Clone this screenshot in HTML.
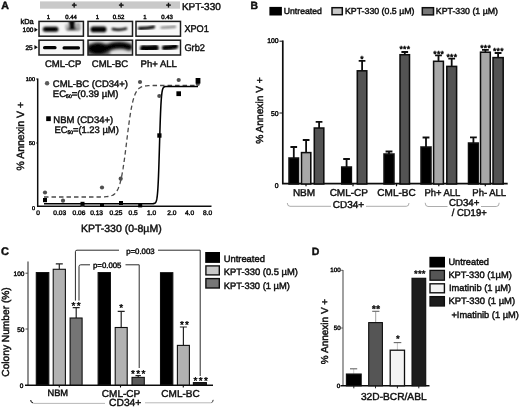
<!DOCTYPE html>
<html>
<head>
<meta charset="utf-8">
<title>Figure</title>
<style>
html,body{margin:0;padding:0;background:#fff;}
body{width:520px;height:408px;overflow:hidden;font-family:"Liberation Sans",sans-serif;}
svg{display:block;position:absolute;left:0;top:0;}
svg text{text-rendering:geometricPrecision;font-family:"Liberation Sans",sans-serif;fill:#111;stroke:#111;stroke-width:0.45px;}
.b{font-weight:bold;}
</style>
</head>
<body>
<svg width="520" height="408" viewBox="0 0 520 408">
<defs>
<filter id="bl1" x="-20%" y="-50%" width="140%" height="200%"><feGaussianBlur stdDeviation="0.9"/></filter>
<filter id="bl2" x="-20%" y="-50%" width="140%" height="200%"><feGaussianBlur stdDeviation="1.4"/></filter>
<filter id="bl0" x="-20%" y="-50%" width="140%" height="200%"><feGaussianBlur stdDeviation="0.65"/></filter>
<filter id="soft"><feGaussianBlur stdDeviation="0.35"/></filter>
<clipPath id="c1"><rect x="39" y="21" width="45" height="15"/></clipPath>
<clipPath id="c2"><rect x="39" y="40" width="45" height="15"/></clipPath>
<clipPath id="c3"><rect x="88" y="21" width="44.5" height="15"/></clipPath>
<clipPath id="c4"><rect x="88" y="40" width="44.5" height="15"/></clipPath>
<clipPath id="c5"><rect x="136.5" y="21" width="43.5" height="15"/></clipPath>
<clipPath id="c6"><rect x="136.5" y="40" width="43.5" height="15"/></clipPath>
</defs>
<rect x="0" y="0" width="520" height="408" fill="#ffffff"/>
<g filter="url(#soft)">

<!-- ================= PANEL A ================= -->
<g id="panelA">
<text x="1.2" y="8.9" font-size="10.6" class="b">A</text>
<rect x="40" y="1.4" width="140" height="7.3" fill="#c9c9c9"/>
<g font-size="8.5" text-anchor="middle" class="b">
<text x="74.2" y="7.9">+</text><text x="121.2" y="7.9">+</text><text x="168.6" y="7.9">+</text>
</g>
<text x="181.9" y="9.9" font-size="10">KPT-330</text>
<g font-size="6" text-anchor="middle">
<text x="48.5" y="19">1</text><text x="71" y="19">0.44</text>
<text x="97.5" y="19">1</text><text x="118.5" y="19">0.52</text>
<text x="145" y="19">1</text><text x="167" y="19">0.43</text>
</g>
<text x="20.5" y="24.3" font-size="7.4">kDa</text>
<text x="22.6" y="32" font-size="6.5">100</text>
<text x="25.5" y="49.5" font-size="6.5">25</text>
<path d="M34.4 27.5 L37.8 29.8 L34.4 32.1Z M34.4 45 L37.8 47.3 L34.4 49.6Z" fill="#111"/>

<!-- blot boxes -->
<g>
<rect x="39" y="21.4" width="44.4" height="14.8" fill="#f6f6f6"/>
<rect x="39" y="40.2" width="44.4" height="14.8" fill="#f6f6f6"/>
<rect x="88" y="21.4" width="44.5" height="14.8" fill="#f4f4f4"/>
<rect x="88" y="40.2" width="44.5" height="14.8" fill="#e2e2e2"/>
<rect x="136" y="21.4" width="44.5" height="14.8" fill="#f8f8f8"/>
<rect x="136" y="40.2" width="44.5" height="14.8" fill="#f8f8f8"/>
</g>
<g clip-path="url(#c1)"><g filter="url(#bl1)">
<rect x="42.8" y="26.8" width="15.6" height="5" rx="2.5" fill="#000"/>
<rect x="65.8" y="26.6" width="14.6" height="3.8" rx="1.9" fill="#4a4a4a"/>
<rect x="68.8" y="19.5" width="6.2" height="10" rx="2" fill="#0a0a0a"/>
<rect x="75.5" y="22.5" width="5" height="7" rx="2" fill="#aaa"/>
<rect x="65" y="24" width="4" height="5" rx="2" fill="#bbb"/>
</g></g>
<g clip-path="url(#c2)"><g filter="url(#bl0)">
<rect x="43" y="46" width="13.6" height="3.3" rx="1.6" fill="#000"/>
<rect x="62.5" y="46.3" width="17.5" height="3.1" rx="1.5" fill="#000"/>
</g></g>
<g clip-path="url(#c3)"><g filter="url(#bl1)">
<rect x="90.5" y="26.6" width="16" height="5.6" rx="2.8" fill="#000"/>
<path d="M112.8 29 Q119 30.6 126 28.6" stroke="#000" stroke-width="2.5" stroke-linecap="round" fill="none"/>
</g></g>
<g clip-path="url(#c4)"><g filter="url(#bl2)">
<ellipse cx="98" cy="48.5" rx="10.5" ry="6" fill="#000"/>
<rect x="86" y="44" width="24" height="12" fill="#000" opacity="0.5"/>
<path d="M108 47.5 Q119 43.5 129 47" stroke="#000" stroke-width="7" stroke-linecap="round" fill="none"/>
</g></g>
<g clip-path="url(#c5)"><g filter="url(#bl1)">
<path d="M139.5 28.4 Q147 28.6 153.5 27" stroke="#000" stroke-width="3.2" stroke-linecap="round" fill="none"/>
<path d="M161.5 27.6 Q168 27.4 175 26.8" stroke="#858585" stroke-width="2.4" stroke-linecap="round" fill="none"/>
</g></g>
<g clip-path="url(#c6)"><g filter="url(#bl1)">
<path d="M143.3 48.3 Q149 49 155.5 47.8" stroke="#000" stroke-width="6.6" stroke-linecap="round" fill="none"/>
<path d="M164.5 47.8 Q170 47.6 175.5 46.4" stroke="#000" stroke-width="5.2" stroke-linecap="round" fill="none"/>
</g></g>
<g fill="none" stroke="#1a1a1a" stroke-width="1.5">
<rect x="39" y="21.4" width="44.4" height="14.8"/>
<rect x="39" y="40.2" width="44.4" height="14.8"/>
<rect x="88" y="21.4" width="44.5" height="14.8"/>
<rect x="88" y="40.2" width="44.5" height="14.8"/>
<rect x="136" y="21.4" width="44.5" height="14.8"/>
<rect x="136" y="40.2" width="44.5" height="14.8"/>
</g>
<text x="184.4" y="31.9" font-size="9.8" textLength="24.4" lengthAdjust="spacingAndGlyphs">XPO1</text>
<text x="184.4" y="50.8" font-size="9.8" textLength="20.6" lengthAdjust="spacingAndGlyphs">Grb2</text>
<g font-size="9.5" text-anchor="middle">
<text x="63.1" y="67.3">CML-CP</text><text x="110" y="67.3">CML-BC</text><text x="158.7" y="67.1">Ph+ ALL</text>
</g>

<!-- chart A -->
<path d="M37.7 78.5 V206.2 H211.5" fill="none" stroke="#111" stroke-width="1.5"/>
<path d="M36 79 H37.7 M36 143 H37.7" stroke="#111" stroke-width="0.8"/>
<g font-size="5.5" text-anchor="end">
<text x="35" y="80.5">100</text><text x="35" y="145">50</text><text x="35" y="210">0</text>
</g>
<g font-size="6.6" text-anchor="middle">
<text x="38" y="215.2">0</text><text x="59.7" y="215.2">0.03</text><text x="78.9" y="215.2">0.06</text><text x="96.6" y="215.2">0.13</text><text x="116" y="215.2">0.25</text><text x="133.2" y="215.2">0.5</text><text x="151.7" y="215.2">1.0</text><text x="171.9" y="215.2">2.0</text><text x="189.5" y="215.2">4.0</text><text x="207.6" y="215.2">8.0</text>
</g>
<text transform="translate(23.5,136.2) rotate(-90)" font-size="10.5" text-anchor="middle">% Annexin V +</text>
<text x="121.3" y="232.3" font-size="10.5" text-anchor="middle">KPT-330 (0-8µM)</text>

<!-- dashed curve -->
<path d="M44.0 197.0 L45.0 197.0 L46.0 197.0 L47.0 197.0 L48.0 197.0 L49.0 197.0 L50.0 197.0 L51.0 197.0 L52.0 197.0 L53.0 197.0 L54.0 197.0 L55.0 197.0 L56.0 197.0 L57.0 197.0 L58.0 197.0 L59.0 197.0 L60.0 197.0 L61.0 197.0 L62.0 197.0 L63.0 197.0 L64.0 197.0 L65.0 197.0 L66.0 197.0 L67.0 197.0 L68.0 197.0 L69.0 197.0 L70.0 197.0 L71.0 197.0 L72.0 197.0 L73.0 197.0 L74.0 197.0 L75.0 197.0 L76.0 197.0 L77.0 197.0 L78.0 197.0 L79.0 197.0 L80.0 197.0 L81.0 197.0 L82.0 197.0 L83.0 197.0 L84.0 197.0 L85.0 197.0 L86.0 197.0 L87.0 197.0 L88.0 197.0 L89.0 197.0 L90.0 197.0 L91.0 197.0 L92.0 197.0 L93.0 197.0 L94.0 197.0 L95.0 197.0 L96.0 197.0 L97.0 197.0 L98.0 197.0 L99.0 197.0 L100.0 197.0 L101.0 196.9 L102.0 196.9 L103.0 196.9 L104.0 196.9 L105.0 196.8 L106.0 196.7 L107.0 196.7 L108.0 196.5 L109.0 196.4 L110.0 196.2 L111.0 195.9 L112.0 195.5 L113.0 195.1 L114.0 194.4 L115.0 193.5 L116.0 192.4 L117.0 190.9 L118.0 189.0 L119.0 186.5 L120.0 183.4 L121.0 179.4 L122.0 174.6 L123.0 168.9 L124.0 162.3 L125.0 154.9 L126.0 147.0 L127.0 138.8 L128.0 130.7 L129.0 123.1 L130.0 116.1 L131.0 110.0 L132.0 104.9 L133.0 100.6 L134.0 97.2 L135.0 94.4 L136.0 92.3 L137.0 90.6 L138.0 89.4 L139.0 88.4 L140.0 87.7 L141.0 87.1 L142.0 86.7 L143.0 86.4 L144.0 86.2 L145.0 86.0 L146.0 85.9 L147.0 85.8 L148.0 85.7 L149.0 85.7 L150.0 85.6 L151.0 85.6 L152.0 85.6 L153.0 85.5 L154.0 85.5 L155.0 85.5 L156.0 85.5 L157.0 85.5 L158.0 85.5 L159.0 85.5 L160.0 85.5 L161.0 85.5 L162.0 85.5 L163.0 85.5 L164.0 85.5 L165.0 85.5 L166.0 85.5 L167.0 85.5 L168.0 85.5 L169.0 85.5 L170.0 85.5 L171.0 85.5 L172.0 85.5 L173.0 85.5 L174.0 85.5 L175.0 85.5 L176.0 85.5 L177.0 85.5 L178.0 85.5 L179.0 85.5 L180.0 85.5 L181.0 85.5 L182.0 85.5 L183.0 85.5 L184.0 85.5 L185.0 85.5 L186.0 85.5 L187.0 85.5 L188.0 85.5 L189.0 85.5 L190.0 85.5 L191.0 85.5 L192.0 85.5 L193.0 85.5 L194.0 85.5 L195.0 85.5 L196.0 85.5 L197.0 85.5 L198.0 85.5" fill="none" stroke="#4a4a4a" stroke-width="1.3" stroke-dasharray="4.5 3" stroke-linejoin="round"/>
<!-- solid curve -->
<path d="M44.00 203.7 L151.70 203.7 L151.90 203.7 L152.10 203.7 L152.30 203.7 L152.50 203.7 L152.70 203.7 L152.90 203.7 L153.10 203.6 L153.30 203.6 L153.50 203.6 L153.70 203.6 L153.90 203.5 L154.10 203.5 L154.30 203.4 L154.50 203.4 L154.70 203.3 L154.90 203.2 L155.10 203.0 L155.30 202.9 L155.50 202.6 L155.70 202.4 L155.90 202.0 L156.10 201.6 L156.30 201.0 L156.50 200.4 L156.70 199.5 L156.90 198.4 L157.10 197.1 L157.30 195.5 L157.50 193.5 L157.70 191.1 L157.90 188.2 L158.10 184.8 L158.30 180.7 L158.50 176.1 L158.70 170.8 L158.90 164.9 L159.10 158.6 L159.30 151.9 L159.50 145.1 L159.70 138.2 L159.90 131.5 L160.10 125.2 L160.30 119.3 L160.50 114.0 L160.70 109.4 L160.90 105.3 L161.10 101.9 L161.30 99.0 L161.50 96.6 L161.70 94.6 L161.90 93.0 L162.10 91.7 L162.30 90.6 L162.50 89.7 L162.70 89.1 L162.90 88.5 L163.10 88.1 L163.30 87.7 L163.50 87.5 L163.70 87.2 L163.90 87.1 L164.10 86.9 L164.30 86.8 L164.50 86.7 L164.70 86.7 L164.90 86.6 L165.10 86.6 L165.30 86.5 L165.50 86.5 L165.70 86.5 L165.90 86.5 L166.10 86.4 L166.30 86.4 L166.50 86.4 L166.70 86.4 L166.90 86.4 L167.10 86.4 L167.30 86.4 L167.50 86.4 L198.00 86.4" fill="none" stroke="#000" stroke-width="1.55" stroke-linejoin="round"/>
<g fill="#505050">
<circle cx="45" cy="192.5" r="2.1"/><circle cx="63" cy="200.7" r="2.1"/><circle cx="82.5" cy="205" r="2.1"/><circle cx="102" cy="187.5" r="2.1"/><circle cx="120.7" cy="178.7" r="2.1"/>
<circle cx="140" cy="82" r="2.1"/><circle cx="159.3" cy="96" r="2.1"/><circle cx="178.7" cy="80" r="2.1"/><circle cx="197.8" cy="84" r="2.1"/>
</g>
<g fill="#000">
<rect x="43" y="198" width="4" height="4.2"/><rect x="80.5" y="201.8" width="4" height="4"/><rect x="100" y="203" width="4" height="4"/><rect x="119" y="201" width="4" height="4"/><rect x="138.2" y="203.4" width="4" height="4"/>
<rect x="157.3" y="133.3" width="4.2" height="4.4"/><rect x="176.4" y="91.3" width="4.6" height="4.8"/><rect x="195.6" y="78" width="4.8" height="5.6"/>
</g>
<!-- legend A -->
<circle cx="47.1" cy="83.3" r="2.2" fill="#5c5c5c"/>
<text x="52.8" y="87.3" font-size="9.5">CML-BC (CD34+)</text>
<text x="52.8" y="96.9" font-size="9.5" textLength="65.7" lengthAdjust="spacingAndGlyphs">EC<tspan font-size="5" dy="1.3">50</tspan><tspan dy="-1.3">=(0.39 µM)</tspan></text>
<rect x="46.2" y="116.3" width="4.6" height="4.8" fill="#000"/>
<text x="53.3" y="122.7" font-size="9.5">NBM (CD34+)</text>
<text x="54.4" y="133" font-size="9.5" textLength="64.4" lengthAdjust="spacingAndGlyphs">EC<tspan font-size="5" dy="1">50</tspan><tspan dy="-1">=(1.23 µM)</tspan></text>
</g>

<!-- ================= PANEL B ================= -->
<g id="panelB">
<text x="250.6" y="9.1" font-size="10.4" class="b">B</text>
<rect x="269.4" y="6.9" width="12.5" height="8.6" fill="#000"/>
<rect x="332" y="7.7" width="10.3" height="7" fill="#c8c8c8" stroke="#111" stroke-width="1.5"/>
<rect x="422.3" y="7.7" width="11.2" height="7.2" fill="#777" stroke="#111" stroke-width="1.5"/>
<g font-size="8.6">
<text x="283.8" y="13.9" textLength="38" lengthAdjust="spacingAndGlyphs">Untreated</text>
<text x="345" y="13.7" textLength="69.5" lengthAdjust="spacingAndGlyphs">KPT-330 (0.5 µM)</text>
<text x="435.8" y="13.5" textLength="62.2" lengthAdjust="spacingAndGlyphs">KPT-330 (1 µM)</text>
</g>
<path d="M282.8 40.6 V183.6 H507.7" fill="none" stroke="#111" stroke-width="1.7"/>
<path d="M306 184 V186.3 M353 184 V186.3 M396.5 184 V186.3 M438.8 184 V186.3 M485.3 184 V186.3" stroke="#111" stroke-width="1.2"/>
<path d="M279.5 41.2 H283 M279.5 113 H283" stroke="#111" stroke-width="1"/>
<g font-size="6.8" text-anchor="end">
<text x="278.6" y="43.2">100</text><text x="278.6" y="115.6">50</text><text x="278.6" y="188.2">0</text>
</g>
<text transform="translate(263,110.5) rotate(-90)" font-size="10.2" text-anchor="middle">% Annexin V +</text>
<!-- error bars -->
<g stroke="#111" stroke-width="1.8" fill="none">
<path d="M293.8 158.0 V147.0 M290.4 147.0 H297.1"/>
<path d="M306.1 152.6 V140.0 M302.8 140.0 H309.5"/>
<path d="M319.1 128.0 V121.8 M315.7 121.8 H322.4"/>
<path d="M346.6 167.0 V159.0 M343.2 159.0 H349.9"/>
<path d="M362.1 70.8 V60.8 M358.7 60.8 H365.4"/>
<path d="M389.0 154.0 V151.5 M385.6 151.5 H392.4"/>
<path d="M404.8 54.7 V52.0 M401.4 52.0 H408.1"/>
<path d="M426.0 147.0 V137.5 M422.6 137.5 H429.4"/>
<path d="M438.5 61.3 V55.3 M435.1 55.3 H441.9"/>
<path d="M451.7 66.4 V58.6 M448.3 58.6 H455.1"/>
<path d="M473.4 143.0 V137.3 M470.0 137.3 H476.8"/>
<path d="M485.4 52.2 V49.8 M482.0 49.8 H488.8"/>
<path d="M498.1 57.6 V53.0 M494.7 53.0 H501.5"/>
</g>
<!-- bars -->
<g stroke="#0a0a0a" stroke-width="1.5">
<rect x="289.0" y="158.0" width="9.5" height="26.0" fill="#000"/>
<rect x="301.5" y="152.6" width="9.3" height="31.4" fill="#a8a8a8"/>
<rect x="314.3" y="128.0" width="9.5" height="56.0" fill="#525252"/>
<rect x="341.7" y="167.0" width="9.7" height="17.0" fill="#000"/>
<rect x="357.3" y="70.8" width="9.5" height="113.2" fill="#525252"/>
<rect x="384.0" y="154.0" width="10.0" height="30.0" fill="#000"/>
<rect x="400.0" y="54.7" width="9.5" height="129.3" fill="#525252"/>
<rect x="421.0" y="147.0" width="10.0" height="37.0" fill="#000"/>
<rect x="433.6" y="61.3" width="9.8" height="122.7" fill="#a8a8a8"/>
<rect x="446.8" y="66.4" width="9.8" height="117.6" fill="#525252"/>
<rect x="468.5" y="143.0" width="9.7" height="41.0" fill="#000"/>
<rect x="480.5" y="52.2" width="9.8" height="131.8" fill="#a8a8a8"/>
<rect x="493.0" y="57.6" width="10.2" height="126.4" fill="#525252"/>
</g>
<g font-size="8.6" text-anchor="middle" letter-spacing="0.25">
<text x="362" y="61.5">*</text>
<text x="404.9" y="52">***</text>
<text x="438.7" y="56.6">***</text>
<text x="451.9" y="59.6">***</text>
<text x="485.6" y="51">***</text>
<text x="498.4" y="53.6">***</text>
</g>
<g font-size="10" text-anchor="middle">
<text x="304" y="196.1">NBM</text><text x="348.8" y="196.1">CML-CP</text><text x="396.5" y="196.1">CML-BC</text><text x="442.3" y="196.1" font-size="10" textLength="35.8" lengthAdjust="spacingAndGlyphs">Ph+ ALL</text><text x="489.2" y="196.1" font-size="10" textLength="33.8" lengthAdjust="spacingAndGlyphs">Ph- ALL</text>
<text x="348.5" y="208.3">CD34+</text>
<text x="464.2" y="205.7" font-size="10" textLength="30.4" lengthAdjust="spacingAndGlyphs">CD34+</text>
<text x="469.2" y="215.8" font-size="10" textLength="35" lengthAdjust="spacingAndGlyphs">/ CD19+</text>
</g>
<g fill="none" stroke="#8a8a8a" stroke-width="0.7">
<path d="M287.3 203 Q287.3 206.3 290 206.3 H331 M366 206.3 H406.3 Q409 206.3 409 203"/>
<path d="M425.2 202.8 Q425.2 206.5 428 206.5 H447.5 M481 206.5 H496.3 Q499.2 206.5 499.2 202.8"/>
</g>
</g>

<!-- ================= PANEL C ================= -->
<g id="panelC">
<text x="0.9" y="255" font-size="11" class="b">C</text>
<path d="M28 261.4 V385.2" fill="none" stroke="#444" stroke-width="1.2"/>
<path d="M25 385.2 H213" fill="none" stroke="#111" stroke-width="1.4"/>
<path d="M25.5 273.2 H27.8 M25.5 329 H27.8" stroke="#333" stroke-width="0.9"/>
<path d="M59.3 385 V387.6 M120.5 385 V387.6 M183.3 385 V387.6" stroke="#111" stroke-width="1.1"/>
<g font-size="6.5" text-anchor="end">
<text x="24.4" y="275.8">100</text><text x="24.4" y="331.6">50</text><text x="23.3" y="387.7">0</text>
</g>
<text transform="translate(9.3,332) rotate(-90)" font-size="10.2" text-anchor="middle">Colony Number (%)</text>
<g stroke="#222" stroke-width="1.2" fill="none">
<path d="M59.3 269 V263.8 M55.8 263.8 H62.8"/>
<path d="M76.2 318 V307.7 M72.7 307.7 H79.7"/>
<path d="M121.2 327.6 V311.3 M117.7 311.3 H124.7"/>
<path d="M138.2 377.3 V375.6 M135.5 375.6 H140.9"/>
<path d="M183.4 345.4 V327 M179.9 327 H186.9"/>
</g>
<g stroke="#111" stroke-width="1.1">
<rect x="36.3" y="272.6" width="12.5" height="112.4" fill="#000"/>
<rect x="53.2" y="269.3" width="12.2" height="115.7" fill="#b2b2b2"/>
<rect x="70.1" y="318" width="12" height="67" fill="#747474"/>
<rect x="98.1" y="272.6" width="12.3" height="112.4" fill="#000"/>
<rect x="115.2" y="327.5" width="12" height="57.5" fill="#b2b2b2"/>
<rect x="132" y="377.4" width="12.3" height="7.6" fill="#5a5a5a"/>
<rect x="160.5" y="272.7" width="12.3" height="112.3" fill="#000"/>
<rect x="177.4" y="345.4" width="12" height="39.6" fill="#b2b2b2"/>
<rect x="193.4" y="382.6" width="13" height="2.4" fill="#222"/>
</g>
<g font-size="10" text-anchor="middle" letter-spacing="1.3">
<text x="76.8" y="309">**</text>
<text x="121.8" y="311.2">*</text>
<text x="138.9" y="377.3">***</text>
<text x="185.1" y="328.2">**</text>
<text x="201.3" y="384.4">***</text>
</g>
<g fill="none" stroke="#2a2a2a" stroke-width="1">
<path d="M75.4 300.6 V251.7 Q75.4 250.2 77 250.2 H119 M158 250.2 H200.2 V376"/>
<path d="M79 300.6 V266.5 Q79 264.8 80.8 264.8 H90 M125.5 264.8 H139.2 V368"/>
</g>
<g font-size="7.8">
<text x="126.2" y="253.6">p=0.003</text>
<text x="93" y="268">p=0.005</text>
</g>
<g font-size="10" text-anchor="middle">
<text x="57.8" y="396.3" font-size="9.3">NBM</text><text x="121" y="396.8">CML-CP</text><text x="180.5" y="396.8">CML-BC</text>
<text x="125.2" y="406.3" font-size="10.3">CD34+</text>
</g>
<g fill="none" stroke="#999" stroke-width="0.7">
<path d="M105 403.4 H34 Q31.3 403.4 31.3 400.3" />
<path d="M145 402.8 H210.5 Q213 402.8 213 400"/>
</g>
<path d="M30.6 400 Q30.6 402.6 33 402.8" stroke="#222" stroke-width="1" fill="none"/>
<path d="M211.5 402.6 Q213.2 402 213.2 399.8" stroke="#444" stroke-width="0.9" fill="none"/>
<rect x="205.2" y="252" width="14.8" height="10.9" fill="#000"/>
<rect x="205.9" y="265.9" width="13.4" height="9" fill="#c8c8c8" stroke="#111" stroke-width="1.4"/>
<rect x="205.9" y="278.6" width="13.4" height="9.4" fill="#777" stroke="#111" stroke-width="1.4"/>
<g font-size="9.3">
<text x="223.7" y="262.1" textLength="41.2" lengthAdjust="spacingAndGlyphs">Untreated</text>
<text x="223.7" y="275.4" textLength="74.2" lengthAdjust="spacingAndGlyphs">KPT-330 (0.5 µM)</text>
<text x="223.7" y="288.7" textLength="66.2" lengthAdjust="spacingAndGlyphs">KPT-330 (1 µM)</text>
</g>
</g>
<!-- ================= PANEL D ================= -->
<g id="panelD">
<text x="311.8" y="254.8" font-size="10.5" class="b">D</text>
<path d="M343 270 V385.8" fill="none" stroke="#555" stroke-width="1.1"/>
<path d="M340.5 385.8 H429.5" fill="none" stroke="#111" stroke-width="1.4"/>
<path d="M340.8 270.3 H343 M340.8 328 H343" stroke="#444" stroke-width="0.8"/>
<path d="M353.8 386 V388.3 M375.5 386 V388.3 M397.4 386 V388.3 M418.8 386 V388.3" stroke="#222" stroke-width="1"/>
<g font-size="6.2" text-anchor="end">
<text x="340.6" y="272.3">100</text><text x="340.6" y="330.2">50</text><text x="340.3" y="388.2">0</text>
</g>
<text transform="translate(327.8,331.5) rotate(-90)" font-size="10" text-anchor="middle">% Annexin V +</text>
<g stroke="#bbb" stroke-width="0.8" fill="none">
<path d="M353.7 373.6 V369"/>
<path d="M375.7 322 V311.6" stroke="#888"/>
<path d="M397.4 350 V342.6"/>
</g>
<g stroke="#666" stroke-width="1.1" fill="none">
<path d="M350 368.8 H357.2"/>
<path d="M372.2 311.3 H379.4"/>
<path d="M393.7 342.6 H401.3"/>
</g>
<g stroke="#111" stroke-width="1.1">
<rect x="346.4" y="374" width="14.8" height="11.8" fill="#000"/>
<rect x="368.7" y="322.6" width="13.7" height="63.2" fill="#555"/>
<rect x="390.2" y="350.2" width="14.3" height="35.6" fill="#f3f3f3" stroke-width="1.3"/>
<rect x="412" y="278.3" width="13.7" height="107.5" fill="#1c1c1c"/>
</g>
<g font-size="9.5" text-anchor="middle" letter-spacing="0.5">
<text x="376.3" y="311.8" font-weight="bold">**</text>
<text x="398.2" y="341.6">*</text>
<text x="419.9" y="277.4" letter-spacing="0.2">***</text>
</g>
<text x="393.8" y="399.6" font-size="10.2" text-anchor="middle">32D-BCR/ABL</text>
<rect x="429.4" y="256.8" width="15.6" height="10.7" fill="#000"/>
<rect x="430" y="270.4" width="14.4" height="9.8" fill="#555" stroke="#111" stroke-width="1.3"/>
<rect x="430" y="283.8" width="14.4" height="9" fill="#f3f3f3" stroke="#111" stroke-width="1.4"/>
<rect x="430" y="296.6" width="14.4" height="9.4" fill="#1c1c1c" stroke="#111" stroke-width="1.3"/>
<g font-size="9.3">
<text x="448.4" y="265.1" textLength="40.6" lengthAdjust="spacingAndGlyphs">Untreated</text>
<text x="448.4" y="277.9" textLength="63.4" lengthAdjust="spacingAndGlyphs">KPT-330 (1µM)</text>
<text x="449" y="291" textLength="62.2" lengthAdjust="spacingAndGlyphs">Imatinib (1 µM)</text>
<text x="448.4" y="303.9" textLength="66.7" lengthAdjust="spacingAndGlyphs">KPT-330 (1 µM)</text>
<text x="451.4" y="317.5" textLength="67.4" lengthAdjust="spacingAndGlyphs">+Imatinib (1 µM)</text>
</g>
</g>
</g>
</svg>
</body>
</html>
